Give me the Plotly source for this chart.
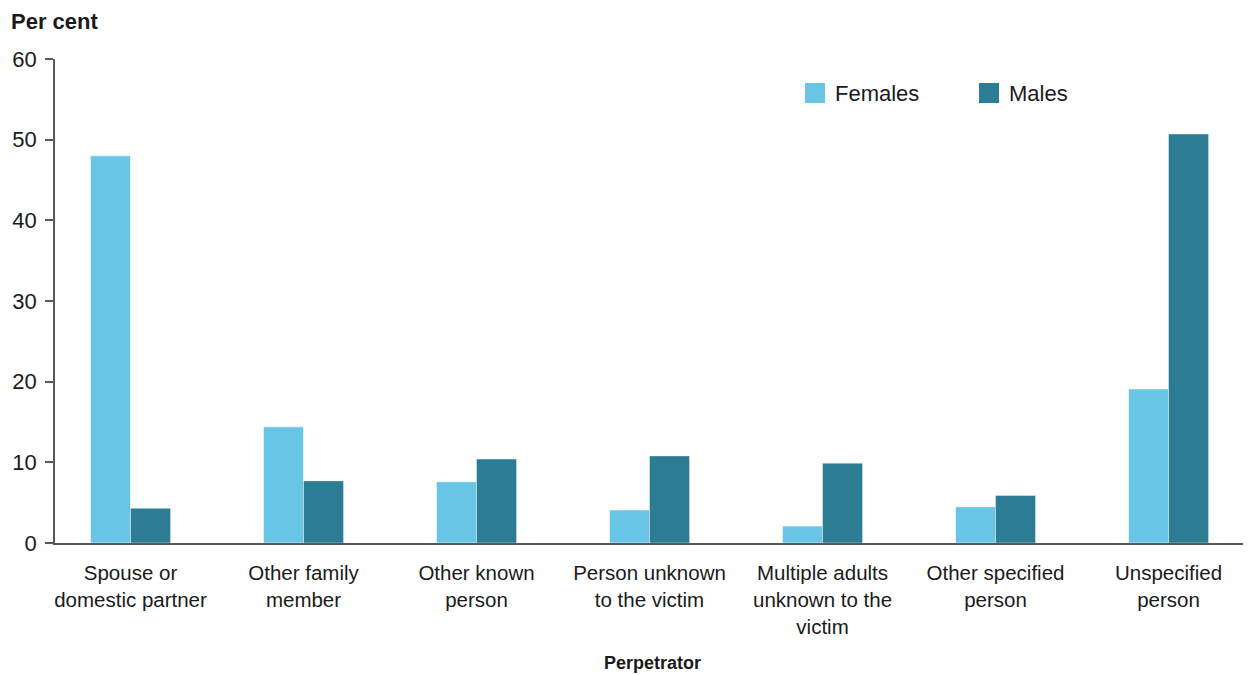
import plotly.graph_objects as go

categories = [
    "Spouse or<br>domestic partner",
    "Other family<br>member",
    "Other known<br>person",
    "Person unknown<br>to the victim",
    "Multiple adults<br>unknown to the<br>victim",
    "Other specified<br>person",
    "Unspecified<br>person",
]
females = [48.0, 14.4, 7.6, 4.1, 2.1, 4.5, 19.1]
males = [4.3, 7.7, 10.4, 10.8, 9.9, 5.9, 50.7]
y_ticks = [0, 10, 20, 30, 40, 50, 60]

FEM_COL = "#69C5E6"
MAL_COL = "#2C7C94"
AXIS_COL = "#595959"
REG = "Liberation Sans, Arial, sans-serif"

# page offset of the figure (default body margin)
OFF = 8
W, H = 1251 - OFF, 675 - OFF
ml, mr, mt, mb = 55 - OFF, 1, 59 - OFF, 675 - 543
pw = W - ml - mr
ph = H - mt - mb

def px_x(x):
    # page x -> paper coordinate
    return (x - OFF - ml) / pw

def px_y(y):
    # page y -> paper coordinate
    return (H - mb - (y - OFF)) / ph

fig = go.Figure()
fig.add_trace(go.Bar(name="Females", x=categories, y=females,
                     marker=dict(color=FEM_COL, line=dict(color="rgba(255,255,255,0.6)", width=1))))
fig.add_trace(go.Bar(name="Males", x=categories, y=males,
                     marker=dict(color=MAL_COL, line=dict(color="rgba(255,255,255,0.4)", width=1))))

fig.update_layout(
    width=W, height=H,
    margin=dict(l=ml, r=mr, t=mt, b=mb, pad=0),
    paper_bgcolor="white", plot_bgcolor="white",
    barmode="group", bargap=0.537, bargroupgap=0,
    showlegend=False,
    font=dict(family=REG, color="#1a1a1a"),
    xaxis=dict(
        range=[-0.4364, 6.471],
        showline=True, linecolor=AXIS_COL, linewidth=1.5,
        ticks="", showgrid=False, zeroline=False,
        tickfont=dict(family=REG, size=20.5, color="#1a1a1a"),
        ticklabelstandoff=11,
        title=dict(text="<b>Perpetrator</b>", font=dict(family=REG, size=18, color="#1a1a1a"), standoff=20),
    ),
    yaxis=dict(
        range=[0, 60], tickvals=y_ticks,
        showline=True, linecolor=AXIS_COL, linewidth=1.5,
        ticks="outside", ticklen=8, tickcolor=AXIS_COL, tickwidth=1.5,
        showgrid=False, zeroline=False,
        tickfont=dict(family=REG, size=22, color="#1a1a1a"),
        ticklabelstandoff=4,
    ),
)

fig.add_annotation(text="<b>Per cent</b>", xref="paper", yref="paper",
                   x=px_x(9), y=px_y(7), xanchor="left", yanchor="top",
                   showarrow=False, font=dict(family=REG, size=22, color="#1a1a1a"))

# legend (drawn manually to match the large square swatches)
legend_items = [("Females", FEM_COL, 805), ("Males", MAL_COL, 979)]
for name, col, x0 in legend_items:
    fig.add_shape(type="rect", xref="paper", yref="paper",
                  x0=px_x(x0), x1=px_x(x0 + 20), y0=px_y(103), y1=px_y(83),
                  fillcolor=col, line=dict(width=0))
    fig.add_annotation(text=name, xref="paper", yref="paper",
                       x=px_x(x0 + 28), y=px_y(93), xanchor="left", yanchor="middle",
                       showarrow=False, font=dict(family=REG, size=22, color="#1a1a1a"))

fig.write_html("out.html")
